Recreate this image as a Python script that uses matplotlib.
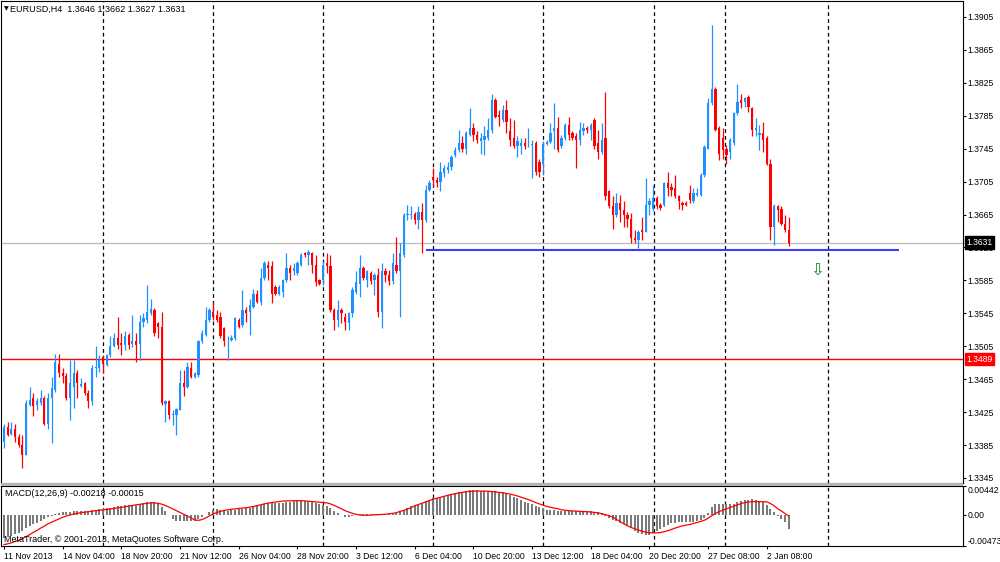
import numpy as np
import matplotlib.pyplot as plt
from matplotlib.patches import Rectangle

plt.rcParams['font.family'] = ['Liberation Sans', 'DejaVu Sans']

# EURUSD H4 candles (bar 0 = 11 Nov 2013 12:00)
opens = [
    1.3389, 1.3407, 1.3399, 1.3405, 1.3395, 1.3385, 1.3373, 1.3434, 1.3442, 1.3434,
    1.3436, 1.3442, 1.3411, 1.3442, 1.3452, 1.3484, 1.3472, 1.3469, 1.3442, 1.3456,
    1.3473, 1.3457, 1.3460, 1.3448, 1.3438, 1.3478, 1.3478, 1.3492, 1.3482, 1.3494,
    1.3505, 1.3515, 1.3509, 1.3506, 1.3519, 1.3508, 1.3511, 1.3508, 1.3535, 1.3537,
    1.3545, 1.3549, 1.3533, 1.3529, 1.3435, 1.3438, 1.3421, 1.3422, 1.3428, 1.3460,
    1.3456, 1.3478, 1.3468, 1.3470, 1.3511, 1.3519, 1.3537, 1.3547, 1.3543, 1.3541,
    1.3527, 1.3512, 1.3513, 1.3515, 1.3537, 1.3531, 1.3549, 1.3547, 1.3553, 1.3569,
    1.3559, 1.3588, 1.3604, 1.3602, 1.3577, 1.3569, 1.3571, 1.3585, 1.3600, 1.3596,
    1.3594, 1.3604, 1.3618, 1.3616, 1.3618, 1.3604, 1.3585, 1.3585, 1.3606, 1.3603,
    1.3549, 1.3537, 1.3549, 1.3541, 1.3533, 1.3545, 1.3571, 1.3581, 1.3600, 1.3586,
    1.3594, 1.3586, 1.3592, 1.3547, 1.3596, 1.3592, 1.3584, 1.3604, 1.3596, 1.3616,
    1.3664, 1.3664, 1.3666, 1.3658, 1.3668, 1.3658, 1.3695, 1.3711, 1.3707, 1.3705,
    1.3715, 1.3719, 1.3723, 1.3737, 1.3743, 1.3752, 1.3745, 1.3762, 1.3770, 1.3762,
    1.3754, 1.3756, 1.3758, 1.3768, 1.3804, 1.3786, 1.3780, 1.3792, 1.3766, 1.3758,
    1.3748, 1.3748, 1.3752, 1.3749, 1.3749, 1.3752, 1.3729, 1.3727, 1.3751, 1.3753,
    1.3766, 1.3770, 1.3748, 1.3758, 1.3774, 1.3764, 1.3760, 1.3756, 1.3766, 1.3770,
    1.3768, 1.3780, 1.3752, 1.3741, 1.3758, 1.3693, 1.3675, 1.3665, 1.3679, 1.3671,
    1.3664, 1.3660, 1.3636, 1.3634, 1.3646, 1.3644, 1.3677, 1.3672, 1.3685, 1.3677,
    1.3677, 1.3703, 1.3699, 1.3697, 1.3687, 1.3679, 1.3679, 1.3691, 1.3681, 1.3689,
    1.3689, 1.3713, 1.3745, 1.3800, 1.3818, 1.3770, 1.3758, 1.3745, 1.3741, 1.3752,
    1.3788, 1.3804, 1.3802, 1.3808, 1.3794, 1.3768, 1.3762, 1.3764, 1.3758, 1.3727,
    1.3650, 1.3675, 1.3672, 1.3654, 1.3646,
]
highs = [
    1.3411, 1.3413, 1.3413, 1.3411, 1.3399, 1.3397, 1.3440, 1.3456, 1.3448, 1.3442,
    1.3452, 1.3444, 1.3448, 1.3468, 1.3496, 1.3496, 1.3478, 1.3472, 1.3488, 1.3488,
    1.3476, 1.3466, 1.3462, 1.3452, 1.3482, 1.3505, 1.3494, 1.3494, 1.3496, 1.3517,
    1.3521, 1.3541, 1.3521, 1.3523, 1.3521, 1.3543, 1.3521, 1.3543, 1.3545, 1.3579,
    1.3563, 1.3551, 1.3535, 1.3547, 1.3440, 1.3440, 1.3428, 1.3430, 1.3476, 1.3476,
    1.3486, 1.3486, 1.3474, 1.3513, 1.3525, 1.3553, 1.3551, 1.3559, 1.3549, 1.3547,
    1.3529, 1.3517, 1.3519, 1.3541, 1.3539, 1.3573, 1.3553, 1.3563, 1.3575, 1.3573,
    1.3600, 1.3608, 1.3608, 1.3608, 1.3580, 1.3580, 1.3587, 1.3618, 1.3604, 1.3606,
    1.3608, 1.3618, 1.3620, 1.3622, 1.3620, 1.3616, 1.3587, 1.3608, 1.3618, 1.3616,
    1.3551, 1.3561, 1.3551, 1.3545, 1.3547, 1.3577, 1.3596, 1.3616, 1.3602, 1.3598,
    1.3596, 1.3594, 1.3600, 1.3606, 1.3600, 1.3598, 1.3618, 1.3638, 1.3630, 1.3667,
    1.3677, 1.3675, 1.3668, 1.3675, 1.3679, 1.3701, 1.3707, 1.3721, 1.3711, 1.3729,
    1.3725, 1.3729, 1.3737, 1.3747, 1.3768, 1.3760, 1.3766, 1.3794, 1.3776, 1.3766,
    1.3764, 1.3772, 1.3782, 1.3812, 1.3806, 1.3792, 1.3798, 1.3804, 1.3782, 1.3780,
    1.3760, 1.3758, 1.3758, 1.3770, 1.3756, 1.3754, 1.3733, 1.3754, 1.3756, 1.3776,
    1.3800, 1.3784, 1.3762, 1.3776, 1.3784, 1.3766, 1.3764, 1.3778, 1.3776, 1.3772,
    1.3776, 1.3782, 1.3768, 1.3776, 1.3814, 1.3695, 1.3688, 1.3691, 1.3689, 1.3681,
    1.3668, 1.3667, 1.3646, 1.3646, 1.3662, 1.3709, 1.3685, 1.3701, 1.3687, 1.3679,
    1.3705, 1.3717, 1.3703, 1.3713, 1.3689, 1.3681, 1.3681, 1.3701, 1.3697, 1.3697,
    1.3715, 1.3749, 1.3806, 1.3895, 1.3820, 1.3772, 1.3770, 1.3749, 1.3758, 1.3790,
    1.3824, 1.3812, 1.3808, 1.3810, 1.3796, 1.3782, 1.3774, 1.3778, 1.3760, 1.3733,
    1.3678, 1.3677, 1.3675, 1.3664, 1.3662,
]
lows = [
    1.3381, 1.3396, 1.3397, 1.3389, 1.3383, 1.3357, 1.3373, 1.3432, 1.3420, 1.3428,
    1.3434, 1.3409, 1.3405, 1.3387, 1.3450, 1.3468, 1.3460, 1.3440, 1.3415, 1.3430,
    1.3442, 1.3456, 1.3446, 1.3430, 1.3434, 1.3468, 1.3474, 1.3472, 1.3481, 1.3492,
    1.3504, 1.3502, 1.3494, 1.3500, 1.3502, 1.3504, 1.3486, 1.3488, 1.3529, 1.3533,
    1.3543, 1.3517, 1.3515, 1.3434, 1.3413, 1.3417, 1.3409, 1.3397, 1.3427, 1.3444,
    1.3454, 1.3466, 1.3466, 1.3468, 1.3509, 1.3517, 1.3535, 1.3537, 1.3535, 1.3515,
    1.3505, 1.3488, 1.3511, 1.3513, 1.3527, 1.3529, 1.3535, 1.3519, 1.3551, 1.3557,
    1.3555, 1.3586, 1.3586, 1.3557, 1.3567, 1.3567, 1.3565, 1.3583, 1.3586, 1.3592,
    1.3592, 1.3602, 1.3614, 1.3604, 1.3594, 1.3578, 1.3579, 1.3579, 1.3594, 1.3547,
    1.3525, 1.3529, 1.3533, 1.3525, 1.3525, 1.3541, 1.3569, 1.3565, 1.3586, 1.3577,
    1.3581, 1.3567, 1.3541, 1.3527, 1.3583, 1.3579, 1.3581, 1.3594, 1.3541, 1.3614,
    1.3658, 1.3660, 1.3654, 1.3648, 1.3618, 1.3656, 1.3693, 1.3699, 1.3699, 1.3693,
    1.3711, 1.3715, 1.3719, 1.3735, 1.3741, 1.3741, 1.3739, 1.3760, 1.3754, 1.3752,
    1.3739, 1.3737, 1.3756, 1.3764, 1.3782, 1.3772, 1.3778, 1.3764, 1.3748, 1.3746,
    1.3735, 1.3739, 1.3745, 1.3747, 1.3709, 1.3713, 1.3711, 1.3713, 1.3749, 1.3752,
    1.3745, 1.3741, 1.3746, 1.3756, 1.3756, 1.3756, 1.3721, 1.3750, 1.3762, 1.3764,
    1.3756, 1.3745, 1.3733, 1.3739, 1.3683, 1.3673, 1.3648, 1.3662, 1.3656, 1.3650,
    1.3650, 1.3630, 1.3630, 1.3624, 1.3634, 1.3644, 1.3664, 1.3669, 1.3672, 1.3670,
    1.3675, 1.3687, 1.3687, 1.3685, 1.3672, 1.3670, 1.3675, 1.3679, 1.3679, 1.3687,
    1.3687, 1.3711, 1.3745, 1.3798, 1.3766, 1.3731, 1.3733, 1.3727, 1.3733, 1.3749,
    1.3786, 1.3794, 1.3796, 1.3790, 1.3760, 1.3760, 1.3743, 1.3741, 1.3725, 1.3634,
    1.3628, 1.3656, 1.3652, 1.3644, 1.3627,
]
closes = [
    1.3407, 1.3397, 1.3405, 1.3395, 1.3385, 1.3373, 1.3436, 1.3440, 1.3432, 1.3438,
    1.3442, 1.3411, 1.3442, 1.3454, 1.3486, 1.3472, 1.3469, 1.3442, 1.3460, 1.3472,
    1.3460, 1.3459, 1.3448, 1.3438, 1.3478, 1.3480, 1.3488, 1.3484, 1.3494, 1.3505,
    1.3515, 1.3507, 1.3506, 1.3517, 1.3507, 1.3511, 1.3507, 1.3535, 1.3539, 1.3547,
    1.3550, 1.3521, 1.3529, 1.3436, 1.3438, 1.3422, 1.3423, 1.3429, 1.3460, 1.3456,
    1.3480, 1.3468, 1.3472, 1.3511, 1.3521, 1.3537, 1.3549, 1.3541, 1.3537, 1.3517,
    1.3511, 1.3513, 1.3515, 1.3539, 1.3529, 1.3549, 1.3545, 1.3555, 1.3569, 1.3559,
    1.3588, 1.3606, 1.3600, 1.3569, 1.3569, 1.3577, 1.3585, 1.3600, 1.3594, 1.3600,
    1.3606, 1.3616, 1.3616, 1.3620, 1.3604, 1.3583, 1.3581, 1.3604, 1.3603, 1.3549,
    1.3537, 1.3549, 1.3545, 1.3535, 1.3545, 1.3573, 1.3583, 1.3600, 1.3588, 1.3596,
    1.3584, 1.3592, 1.3547, 1.3596, 1.3592, 1.3584, 1.3606, 1.3596, 1.3618, 1.3664,
    1.3666, 1.3666, 1.3658, 1.3668, 1.3658, 1.3695, 1.3703, 1.3707, 1.3703, 1.3717,
    1.3721, 1.3723, 1.3735, 1.3743, 1.3752, 1.3745, 1.3764, 1.3770, 1.3762, 1.3756,
    1.3758, 1.3760, 1.3768, 1.3804, 1.3784, 1.3784, 1.3792, 1.3778, 1.3756, 1.3748,
    1.3754, 1.3752, 1.3748, 1.3750, 1.3751, 1.3717, 1.3717, 1.3751, 1.3753, 1.3764,
    1.3770, 1.3744, 1.3758, 1.3774, 1.3762, 1.3758, 1.3756, 1.3768, 1.3770, 1.3768,
    1.3774, 1.3748, 1.3741, 1.3756, 1.3687, 1.3675, 1.3665, 1.3679, 1.3671, 1.3664,
    1.3660, 1.3636, 1.3634, 1.3644, 1.3644, 1.3677, 1.3681, 1.3685, 1.3675, 1.3673,
    1.3703, 1.3697, 1.3695, 1.3687, 1.3681, 1.3677, 1.3677, 1.3683, 1.3691, 1.3691,
    1.3713, 1.3747, 1.3800, 1.3818, 1.3768, 1.3739, 1.3743, 1.3737, 1.3756, 1.3788,
    1.3802, 1.3800, 1.3806, 1.3796, 1.3768, 1.3770, 1.3764, 1.3756, 1.3727, 1.3650,
    1.3675, 1.3670, 1.3654, 1.3646, 1.3631,
]

# MACD(12,26,9) main (histogram) and signal line
macd_main = [
    -0.00345, -0.00335, -0.00318, -0.00295, -0.00268, -0.00245, -0.00200, -0.00170, -0.00140, -0.00115,
    -0.00090, -0.00060, -0.00038, -0.00015, 0.00012, 0.00030, 0.00040, 0.00045, 0.00050, 0.00055,
    0.00058, 0.00060, 0.00062, 0.00062, 0.00070, 0.00078, 0.00085, 0.00092, 0.00100, 0.00112,
    0.00125, 0.00135, 0.00142, 0.00150, 0.00152, 0.00155, 0.00158, 0.00170, 0.00182, 0.00195,
    0.00205, 0.00200, 0.00185, 0.00120, 0.00060, -0.00005, -0.00060, -0.00090, -0.00095, -0.00098,
    -0.00090, -0.00095, -0.00088, -0.00060, -0.00030, 0.00005, 0.00045, 0.00075, 0.00085, 0.00080,
    0.00070, 0.00065, 0.00070, 0.00080, 0.00085, 0.00095, 0.00100, 0.00110, 0.00125, 0.00130,
    0.00150, 0.00175, 0.00190, 0.00185, 0.00180, 0.00180, 0.00185, 0.00200, 0.00205, 0.00208,
    0.00210, 0.00215, 0.00218, 0.00215, 0.00205, 0.00180, 0.00160, 0.00150, 0.00140, 0.00100,
    0.00060, 0.00025, -0.00005, -0.00025, -0.00030, -0.00020, -0.00005, 0.00015, 0.00020, 0.00022,
    0.00020, 0.00022, 0.00010, 0.00018, 0.00020, 0.00020, 0.00028, 0.00030, 0.00040, 0.00075,
    0.00105, 0.00130, 0.00150, 0.00170, 0.00180, 0.00210, 0.00235, 0.00255, 0.00265, 0.00280,
    0.00292, 0.00305, 0.00318, 0.00330, 0.00345, 0.00350, 0.00360, 0.00375, 0.00380, 0.00378,
    0.00372, 0.00368, 0.00366, 0.00370, 0.00365, 0.00355, 0.00348, 0.00330, 0.00305, 0.00280,
    0.00255, 0.00232, 0.00205, 0.00185, 0.00165, 0.00140, 0.00115, 0.00100, 0.00080, 0.00072,
    0.00070, 0.00065, 0.00060, 0.00065, 0.00068, 0.00065, 0.00060, 0.00062, 0.00062, 0.00060,
    0.00062, 0.00050, 0.00040, 0.00030, -0.00010, -0.00045, -0.00075, -0.00090, -0.00115, -0.00130,
    -0.00160, -0.00200, -0.00240, -0.00270, -0.00290, -0.00300, -0.00300, -0.00280, -0.00250, -0.00215,
    -0.00180, -0.00150, -0.00125, -0.00115, -0.00110, -0.00108, -0.00108, -0.00105, -0.00100, -0.00095,
    -0.00080, -0.00040, 0.00030, 0.00120, 0.00170, 0.00175, 0.00170, 0.00165, 0.00160, 0.00170,
    0.00195, 0.00215, 0.00225, 0.00235, 0.00240, 0.00235, 0.00220, 0.00195, 0.00150, 0.00090,
    0.00040, -0.00010, -0.00055, -0.00110, -0.00218,
]
macd_signal = [
    -0.00452, -0.00440, -0.00425, -0.00405, -0.00385, -0.00360, -0.00330, -0.00300, -0.00265, -0.00235,
    -0.00200, -0.00170, -0.00135, -0.00110, -0.00085, -0.00060, -0.00035, -0.00016, 0.00000, 0.00015,
    0.00025, 0.00035, 0.00042, 0.00050, 0.00058, 0.00065, 0.00072, 0.00078, 0.00085, 0.00090,
    0.00100, 0.00108, 0.00115, 0.00125, 0.00135, 0.00145, 0.00155, 0.00162, 0.00170, 0.00178,
    0.00185, 0.00185, 0.00178, 0.00165, 0.00145, 0.00120, 0.00093, 0.00065, 0.00038, 0.00012,
    -0.00016, -0.00045, -0.00075, -0.00082, -0.00070, -0.00044, -0.00015, 0.00015, 0.00038, 0.00055,
    0.00068, 0.00078, 0.00088, 0.00093, 0.00100, 0.00105, 0.00110, 0.00120, 0.00130, 0.00142,
    0.00155, 0.00170, 0.00180, 0.00190, 0.00198, 0.00205, 0.00212, 0.00215, 0.00217, 0.00218,
    0.00218, 0.00218, 0.00215, 0.00210, 0.00205, 0.00200, 0.00195, 0.00190, 0.00185, 0.00170,
    0.00147, 0.00120, 0.00095, 0.00065, 0.00045, 0.00025, 0.00010, 0.00000, -0.00004, -0.00005,
    -0.00002, 0.00002, 0.00005, 0.00008, 0.00012, 0.00018, 0.00025, 0.00035, 0.00055, 0.00070,
    0.00090, 0.00112, 0.00140, 0.00160, 0.00180, 0.00200, 0.00220, 0.00240, 0.00255, 0.00270,
    0.00285, 0.00300, 0.00315, 0.00325, 0.00335, 0.00345, 0.00355, 0.00360, 0.00363, 0.00365,
    0.00365, 0.00365, 0.00362, 0.00358, 0.00352, 0.00345, 0.00338, 0.00328, 0.00318, 0.00305,
    0.00290, 0.00272, 0.00255, 0.00235, 0.00212, 0.00190, 0.00168, 0.00150, 0.00131, 0.00118,
    0.00105, 0.00095, 0.00080, 0.00072, 0.00066, 0.00062, 0.00058, 0.00055, 0.00053, 0.00050,
    0.00045, 0.00040, 0.00032, 0.00020, 0.00005, -0.00010, -0.00033, -0.00065, -0.00100, -0.00135,
    -0.00165, -0.00190, -0.00212, -0.00230, -0.00248, -0.00262, -0.00270, -0.00274, -0.00273, -0.00268,
    -0.00255, -0.00240, -0.00220, -0.00200, -0.00182, -0.00165, -0.00155, -0.00145, -0.00130, -0.00115,
    -0.00098, -0.00080, -0.00050, -0.00010, 0.00025, 0.00050, 0.00075, 0.00093, 0.00115, 0.00135,
    0.00155, 0.00174, 0.00188, 0.00198, 0.00202, 0.00204, 0.00204, 0.00202, 0.00200, 0.00175,
    0.00140, 0.00093, 0.00060, 0.00020, -0.00015,
]

time_labels = ["11 Nov 2013", "14 Nov 04:00", "18 Nov 20:00", "21 Nov 12:00", "26 Nov 04:00",
               "28 Nov 20:00", "3 Dec 12:00", "6 Dec 04:00", "10 Dec 20:00", "13 Dec 12:00",
               "18 Dec 04:00", "20 Dec 20:00", "27 Dec 08:00", "2 Jan 08:00"]
label_bars = [0, 16, 32, 48, 64, 80, 96, 112, 128, 144, 160, 176, 192, 208]
week_separators = [27, 57, 87, 117, 147, 177.3, 196.5, 224.8]

price_ticks = [1.3345, 1.3385, 1.3425, 1.3465, 1.3505, 1.3545, 1.3585, 1.3625,
               1.3665, 1.3705, 1.3745, 1.3785, 1.3825, 1.3865, 1.3905]
price_range = (1.33389, 1.39244)
macd_range = (-0.00473, 0.00442)

bid_price = 1.3631
red_level = 1.3489
support_level = 1.3622
support_span = (115, 244)
arrow_bar, arrow_price = 221.7, 1.3598

BULL = '#1e90ff'
BEAR = '#ff0000'

W, H = 1000, 562


def px_box(x0, y0, x1, y1):
    # pixel box (top-left origin) -> figure fraction rect
    return [x0 / W, 1 - y1 / H, (x1 - x0) / W, (y1 - y0) / H]


fig = plt.figure(figsize=(W / 100, H / 100), dpi=100)
fig.patch.set_facecolor('white')

ax = fig.add_axes(px_box(1, 1, 963, 483))
axm = fig.add_axes(px_box(1, 486, 963, 546), sharex=ax)

# grey splitter between the two windows
fig.patches.append(Rectangle((1 / W, 1 - 486 / H), 962 / W, 3 / H,
                             transform=fig.transFigure, fc='#b4b4b4', ec='none'))

x = np.arange(len(closes))
o = np.array(opens)
h = np.array(highs)
l = np.array(lows)
c = np.array(closes)
colors = np.where(c >= o, BULL, BEAR)

ax.vlines(x, l, h, colors=colors, lw=0.9, zorder=3)
body_lo = np.minimum(o, c)
body_h = np.maximum(np.abs(c - o), 0.00010)
ax.bar(x, body_h, bottom=body_lo, width=0.62, color=colors, linewidth=0, zorder=4)

# levels
ax.axhline(bid_price, color='#c0c0c0', lw=1, zorder=2)
ax.axhline(red_level, color='red', lw=1, zorder=2)
ax.hlines(support_level, support_span[0], support_span[1], color='#3c3cff', lw=1.5, zorder=5)
ax.text(arrow_bar, arrow_price, '\u21e9', color='#1a8a1a', fontsize=12,
        ha='center', va='center', family=['DejaVu Sans'], zorder=6)

# MACD window
axm.bar(x, macd_main, width=0.55, color='#7a7a7a', linewidth=0, zorder=3)
axm.plot(x, macd_signal, color='red', lw=0.9, zorder=4)

for a in (ax, axm):
    for s in week_separators:
        a.axvline(s, color='black', lw=0.9, ls=(0, (3, 2.5)), zorder=1)
    for sp in a.spines.values():
        sp.set_linewidth(0.8)
        sp.set_color('black')

ax.set_xlim(-0.82, 261.5)
ax.set_ylim(*price_range)
axm.set_ylim(*macd_range)

ax.yaxis.tick_right()
ax.set_yticks(price_ticks)
ax.set_yticklabels([f"{p:.4f}" for p in price_ticks])
ax.tick_params(axis='y', direction='out', length=2.5, width=0.8, pad=0.8, labelsize=6.2)
ax.tick_params(axis='x', bottom=False, labelbottom=False)

axm.yaxis.tick_right()
axm.set_yticks([macd_range[0], 0.0, macd_range[1]])
axm.set_yticklabels([f"{macd_range[0]:.5f}", "0.00", f"{macd_range[1]:.5f}"])
axm.tick_params(axis='y', direction='out', length=2.5, width=0.8, pad=0.8, labelsize=6.2)
ylabs = axm.get_yticklabels()
ylabs[0].set_va('bottom')
ylabs[-1].set_va('top')

axm.set_xticks(label_bars)
axm.set_xticklabels(time_labels, ha='left')
axm.tick_params(axis='x', direction='out', length=2.5, width=0.8, pad=1.5, labelsize=6.2)

# price tags on the scale
tag_tr = ax.get_yaxis_transform()
ax.text(1.0035, bid_price, f"{bid_price:.4f}", transform=tag_tr, ha='left', va='center',
        fontsize=6.2, color='white', clip_on=False, zorder=10,
        bbox=dict(boxstyle='square,pad=0.18', fc='black', ec='black'))
ax.text(1.0035, red_level, f"{red_level:.4f}", transform=tag_tr, ha='left', va='center',
        fontsize=6.2, color='white', clip_on=False, zorder=10,
        bbox=dict(boxstyle='square,pad=0.18', fc='red', ec='red'))

# window captions
fig.text(4 / W, 1 - 9 / H, '\u25bc', fontsize=4.5, va='center', ha='left',
         family=['DejaVu Sans'])
fig.text(10 / W, 1 - 9.5 / H,
         f"EURUSD,H4  {opens[-1]:.4f} {highs[-1]:.4f} {lows[-1]:.4f} {closes[-1]:.4f}",
         fontsize=6.5, va='center', ha='left')
fig.text(5 / W, 1 - 494 / H,
         f"MACD(12,26,9) {macd_main[-1]:.5f} {macd_signal[-1]:.5f}",
         fontsize=6.5, va='center', ha='left')
fig.text(4 / W, 1 - 539 / H, "MetaTrader, \u00a9 2001-2013, MetaQuotes Software Corp.",
         fontsize=6.5, va='center', ha='left')

fig.savefig('out.png', dpi=100)
